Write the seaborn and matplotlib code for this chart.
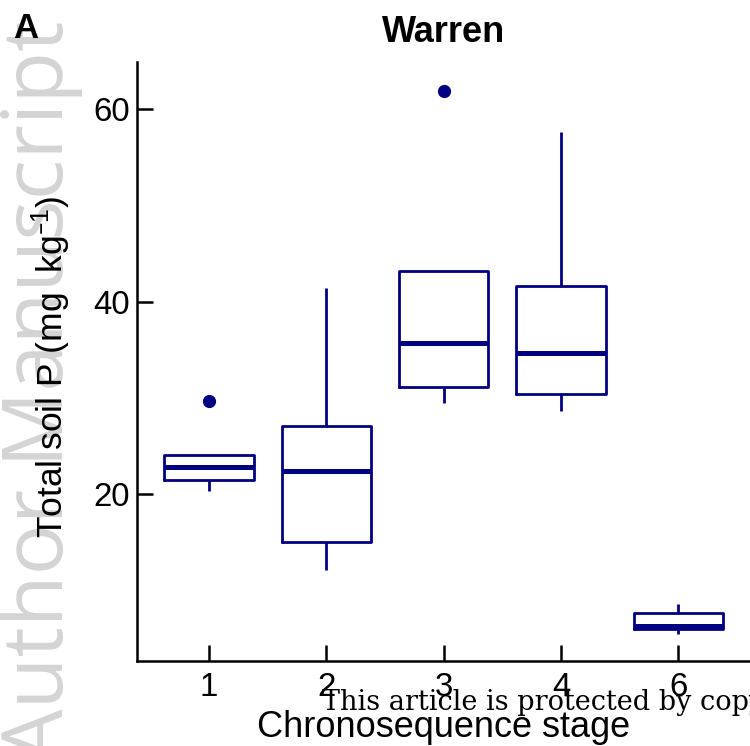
import numpy as np
import pandas as pd
import matplotlib
matplotlib.use('Agg')
import matplotlib.pyplot as plt
import seaborn as sns

# ---- data ----
stages = ['1', '2', '3', '4', '6']
stage1 = [20.3, 21.45, 22.8, 24.1, 29.7]
stage2 = [12.1, 15.0, 22.4, 27.05, 41.4]
stage3 = [29.5, 31.15, 35.7, 43.15, 61.85]
stage4 = [28.6, 30.45, 34.65, 41.6, 57.6]
stage6 = [5.5, 5.95, 6.25, 7.6, 8.57]
y_ticks = [20, 40, 60]

title = 'Warren'
xlabel = 'Chronosequence stage'
ylabel = 'Total soil P (mg  kg$^{\\mathregular{\u2013 1}}$)'

sns.set_style('ticks')
plt.rcParams['font.family'] = ['Liberation Sans', 'DejaVu Sans']
plt.rcParams['mathtext.default'] = 'regular'
for k in ['text.color', 'axes.labelcolor', 'xtick.color', 'ytick.color', 'axes.edgecolor']:
    plt.rcParams[k] = 'black'

values = [stage1, stage2, stage3, stage4, stage6]
df = pd.DataFrame({
    'stage': np.repeat(stages, [len(v) for v in values]),
    'P': np.concatenate(values),
})

navy = '#000080'
fig = plt.figure(figsize=(7.5, 7.46), dpi=100)

# watermarks
fig.text(0.084, 1 - 762 / 746, 'Author Manuscript', rotation=90, rotation_mode='anchor',
         ha='left', va='baseline', fontsize=61, color='#d4d4d4', zorder=-5,
         family=['Open Sans', 'Liberation Sans'])

ax = fig.add_axes([0.182, 0.1139, 0.818, 0.803])
ax.patch.set_alpha(0)
sns.boxplot(data=df, x='stage', y='P', order=stages, color=navy, fill=False,
            width=0.76, linewidth=2.0, showcaps=False, whis=1.5,
            medianprops={'linewidth': 3.6, 'color': navy},
            boxprops={'color': navy},
            whiskerprops={'color': navy},
            flierprops={'marker': 'o', 'markerfacecolor': navy,
                        'markeredgecolor': navy, 'markersize': 8.5},
            ax=ax)

ax.set_xlim(-0.617, 4.61)
ax.set_ylim(2.65, 64.9)
ax.set_yticks(y_ticks)
sns.despine(ax=ax)
for s in ['left', 'bottom']:
    ax.spines[s].set_linewidth(1.8)
    ax.spines[s].set_color('black')
ax.tick_params(axis='both', direction='in', length=11.5, width=1.8,
               labelsize=23.8, colors='black')
ax.tick_params(axis='x', pad=8)
ax.tick_params(axis='y', pad=5)

ax.set_title(title, fontsize=26, fontweight='bold', pad=14.5, color='black')
ax.set_xlabel(xlabel, fontsize=26)
ax.set_ylabel(ylabel, fontsize=25.5)
ax.xaxis.set_label_coords(0.5, -0.082)
ax.yaxis.set_label_coords(-0.104, 0.49)

fig.text(0.018, 0.9487, 'A', fontsize=25, fontweight='bold', ha='left', va='baseline')
fig.text(322 / 750, 1 - 710 / 746, 'This article is protected by copyright. All rights reserved',
         family='DejaVu Serif', fontsize=19.5, ha='left', va='baseline', color='black')

fig.savefig('out.png', dpi=100)
